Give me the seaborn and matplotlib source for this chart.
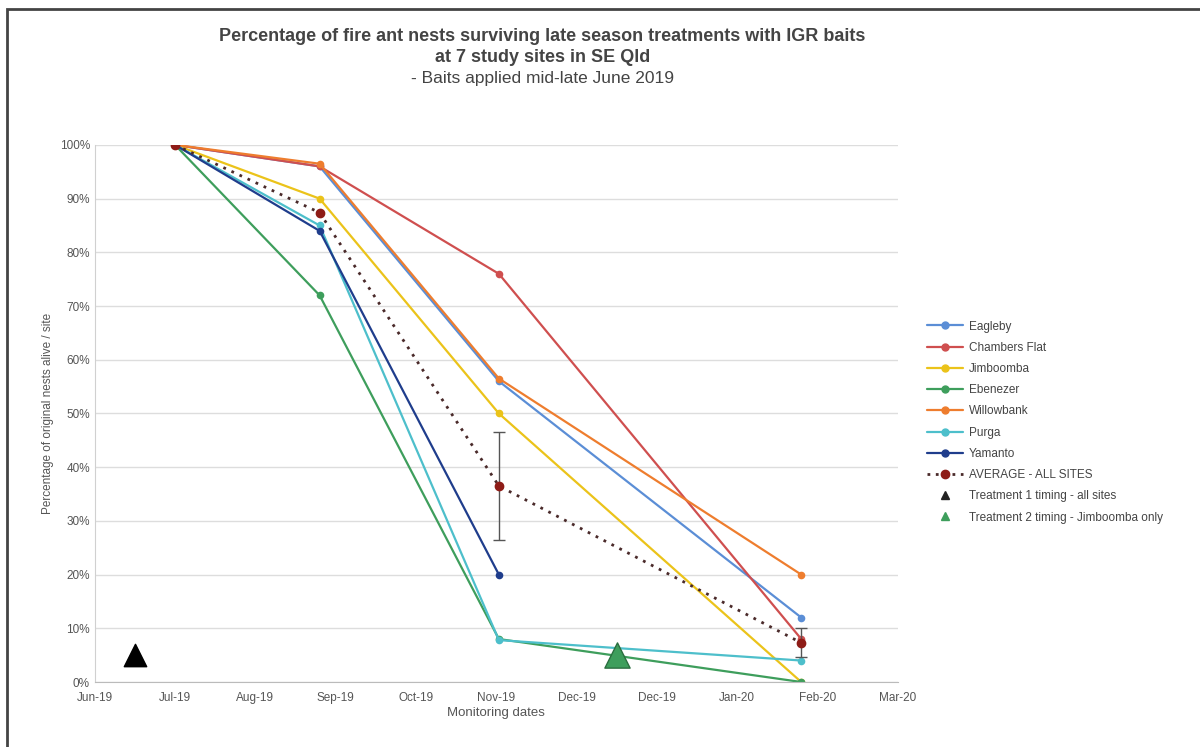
import pandas as pd
import numpy as np
import matplotlib
matplotlib.use("Agg")
import matplotlib.pyplot as plt
import matplotlib.dates as mdates
from matplotlib.lines import Line2D
from matplotlib.patches import Rectangle
import seaborn as sns

sns.set_style("white")
plt.rcParams['font.family'] = ['Liberation Sans', 'DejaVu Sans']

# monitoring dates
dates = pd.to_datetime(["2019-07-04", "2019-08-27", "2019-11-02", "2020-02-23"])

# % of original nests alive per site
sites = ["Eagleby", "Chambers Flat", "Jimboomba", "Ebenezer", "Willowbank", "Purga", "Yamanto"]
eagleby = [100, 96, 56, 12]
chambers_flat = [100, 96, 76, 8]
jimboomba = [100, 90, 50, 0]
ebenezer = [100, 72, 8, 0]
willowbank = [100, 96.5, 56.5, 20]
purga = [100, 85, 7.8, 4]
yamanto = [100, 84, 20, np.nan]
average = [100, 87.4, 36.5, 7.3]
avg_err = [0, 0, 10, 2.7]

# treatment timing markers
treat_dates = pd.to_datetime(["2019-06-19", "2019-12-16"])
treat_vals = [5, 5]
treat_labels = ["Treatment 1 timing - all sites", "Treatment 2 timing - Jimboomba only"]

colors = ["#5B8ED6", "#CF4F4F", "#EBC31A", "#3E9E5C", "#EE7D2E", "#4DBFCB", "#1F3D8C"]
avg_color = "#8E1C17"

tick_dates = pd.date_range("2019-06-04", periods=11, freq="30D")

rows = []
for name, vals in zip(sites, [eagleby, chambers_flat, jimboomba, ebenezer, willowbank, purga, yamanto]):
    for d, v in zip(dates, vals):
        if not np.isnan(v):
            rows.append({"date": d, "pct": v, "site": name})
df = pd.DataFrame(rows)

fig = plt.figure(figsize=(12, 7.47), dpi=100)
ax = fig.add_axes([0.079, 0.087, 0.669, 0.719])

sns.lineplot(data=df, x="date", y="pct", hue="site", hue_order=sites, palette=colors,
             marker="o", markersize=5.5, markeredgewidth=0, linewidth=1.6, ax=ax, legend=False)

avg_df = pd.DataFrame({"date": dates, "pct": average})
sns.lineplot(data=avg_df, x="date", y="pct", color="#4a2a2a", linestyle=(0, (1, 2.2)),
             linewidth=2, ax=ax, legend=False)
ax.errorbar(dates[2:], average[2:], yerr=avg_err[2:], fmt="none", ecolor="#555555",
            elinewidth=1, capsize=4)
ax.plot(dates, average, "o", color=avg_color, markersize=6, zorder=5)

ax.scatter(treat_dates[:1], treat_vals[:1], marker="^", s=260, color="black", zorder=6)
ax.scatter(treat_dates[1:], treat_vals[1:], marker="^", s=330, color="#3E9E5C",
           edgecolor="#2b6e3f", linewidth=1, zorder=6)

ax.set_xlim(tick_dates[0], tick_dates[-1])
ax.set_ylim(0, 100)
ax.set_xticks(tick_dates)
ax.xaxis.set_major_formatter(mdates.DateFormatter("%b-%y"))
ax.set_yticks(range(0, 101, 10))
ax.set_yticklabels([f"{v}%" for v in range(0, 101, 10)])
ax.tick_params(axis="both", labelsize=8.5, colors="#555555")
ax.tick_params(axis="x", length=4, color="#bbbbbb", direction="out")
ax.tick_params(axis="y", length=0)
ax.yaxis.grid(True, color="#dddddd", linewidth=1)
for s in ["top", "right"]:
    ax.spines[s].set_visible(False)
ax.spines["left"].set_color("#d0d0d0")
ax.spines["bottom"].set_color("#bbbbbb")

ax.set_xlabel("Monitoring dates", fontsize=9.5, color="#555555", labelpad=2)
ax.set_ylabel("Percentage of original nests alive / site", fontsize=8.5, color="#555555")

fig.text(0.452, 0.937, "Percentage of fire ant nests surviving late season treatments with IGR baits\nat 7 study sites in SE Qld",
         ha="center", va="center", fontsize=13, fontweight="bold", color="#444444", linespacing=1.25)
fig.text(0.452, 0.895, "- Baits applied mid-late June 2019", ha="center", va="center",
         fontsize=12.5, color="#444444")

handles = [Line2D([0], [0], color=c, marker="o", markersize=5, linewidth=1.6, label=n)
           for n, c in zip(sites, colors)]
handles.append(Line2D([0], [0], color="#4a2a2a", linestyle=(0, (1, 2)), linewidth=2,
                      marker="o", markerfacecolor=avg_color, markeredgecolor=avg_color,
                      markersize=6, label="AVERAGE - ALL SITES"))
handles.append(Line2D([0], [0], color="none", marker="^", markerfacecolor="#222222",
                      markeredgecolor="#222222", markersize=6, label=treat_labels[0]))
handles.append(Line2D([0], [0], color="none", marker="^", markerfacecolor="#3E9E5C",
                      markeredgecolor="#3E9E5C", markersize=6, label=treat_labels[1]))
leg = fig.legend(handles=handles, loc="upper left", bbox_to_anchor=(0.764, 0.585),
                 frameon=False, fontsize=8.5, handlelength=3, handletextpad=0.5,
                 labelspacing=0.78)
for t in leg.get_texts():
    t.set_color("#444444")

fig.patches.append(Rectangle((0.006, -0.01), 1.1, 0.998, transform=fig.transFigure,
                             fill=False, edgecolor="#444444", linewidth=2))

fig.savefig("out.png", dpi=100)
